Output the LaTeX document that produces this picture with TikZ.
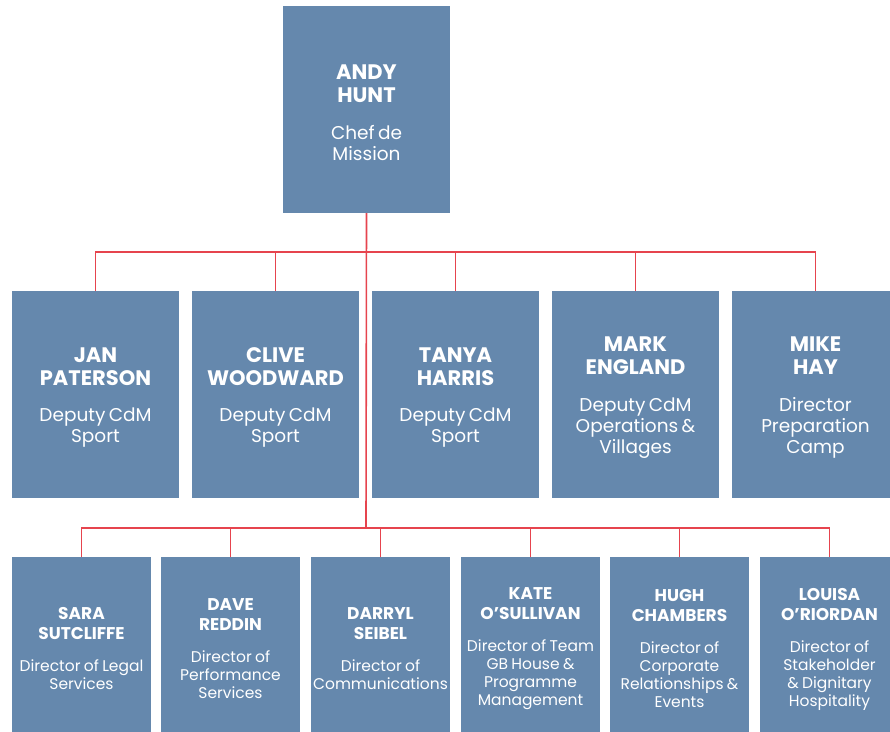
\documentclass[tikz,border=0pt]{standalone}
\usepackage{fontspec}
\setmainfont{Poppins}
\definecolor{boxblue}{RGB}{101,136,173}
\definecolor{linered}{RGB}{230,68,78}
\newcommand{\bigname}[1]{{\bfseries\fontsize{21}{23}\selectfont #1\par}}
\newcommand{\bigrole}[1]{\vspace{15.5pt}{\fontsize{18.5}{21}\selectfont #1\par}}
\newcommand{\smallname}[1]{{\bfseries\fontsize{17}{20}\selectfont #1\par}}
\newcommand{\smallrole}[1]{\vspace{14pt}{\fontsize{15.5}{18}\selectfont #1\par}}
\begin{document}
\begin{tikzpicture}[x=1pt,y=-1pt,
  box/.style={fill=boxblue, inner sep=0pt, outer sep=0pt},
  bigbox/.style={box, minimum width=167pt, minimum height=207pt},
  smallbox/.style={box, minimum width=139pt, minimum height=176pt},
  txt/.style={text=white, inner sep=0pt, align=center, yshift=-3pt},
  bigtxt/.style={txt, text width=165pt},
  smalltxt/.style={txt, text width=137pt, yshift=-1pt},
  conn/.style={draw=linered, line width=1.6pt}]
\useasboundingbox (0,0) rectangle (890,731);
\coordinate (bus1) at (366,252);
\coordinate (bus2) at (366,528);
% boxes
\node[bigbox] (top) at (366.5,109.5) {};
\node[bigbox] (m1) at (95.5,394.5) {};
\node[bigbox] (m2) at (275.5,394.5) {};
\node[bigbox] (m3) at (455.5,394.5) {};
\node[bigbox] (m4) at (635.5,394.5) {};
\node[bigbox] (m5) at (815.5,394.5) {};
\node[smallbox] (b1) at (81.5,645) {};
\node[smallbox] (b2) at (230.5,645) {};
\node[smallbox] (b3) at (380.5,645) {};
\node[smallbox] (b4) at (530.5,645) {};
\node[smallbox] (b5) at (679.5,645) {};
\node[smallbox] (b6) at (829.5,645) {};
% texts
\node[bigtxt] (ttop) at (top.center) {\bigname{ANDY\\HUNT}\bigrole{Chef de\\Mission}};
\node[bigtxt] (tm1) at (m1.center) {\bigname{JAN\\PATERSON}\bigrole{Deputy CdM\\Sport}};
\node[bigtxt] (tm2) at (m2.center) {\bigname{CLIVE\\WOODWARD}\bigrole{Deputy CdM\\Sport}};
\node[bigtxt] (tm3) at (m3.center) {\bigname{TANYA\\HARRIS}\bigrole{Deputy CdM\\Sport}};
\node[bigtxt] (tm4) at (m4.center) {\bigname{MARK\\ENGLAND}\bigrole{Deputy CdM\\Operations \&\\Villages}};
\node[bigtxt] (tm5) at (m5.center) {\bigname{MIKE\\HAY}\bigrole{Director\\Preparation\\Camp}};
\node[smalltxt] (tb1) at (b1.center) {\smallname{SARA\\SUTCLIFFE}\smallrole{Director of Legal\\Services}};
\node[smalltxt] (tb2) at (b2.center) {\smallname{DAVE\\REDDIN}\smallrole{Director of\\Performance\\Services}};
\node[smalltxt] (tb3) at (b3.center) {\smallname{DARRYL\\SEIBEL}\smallrole{Director of\\Communications}};
\node[smalltxt] (tb4) at (b4.center) {\smallname{KATE\\O’SULLIVAN}\smallrole{Director of Team\\GB House \&\\Programme\\Management}};
\node[smalltxt] (tb5) at (b5.center) {\smallname{HUGH\\CHAMBERS}\smallrole{Director of\\Corporate\\Relationships \&\\Events}};
\node[smalltxt] (tb6) at (b6.center) {\smallname{LOUISA\\O’RIORDAN}\smallrole{Director of\\Stakeholder\\\& Dignitary\\Hospitality}};
% connectors
\draw[conn] (top.south) -- (bus2);
\draw[conn] (m1.north) |- (bus1) -| (m5.north);
\foreach \n in {m2,m3,m4} \draw[conn] (\n.north) -- (\n.north |- bus1);
\draw[conn] (b1.north) |- (bus2) -| (b6.north);
\foreach \n in {b2,b3,b4,b5} \draw[conn] (\n.north) -- (\n.north |- bus2);
\end{tikzpicture}
\end{document}
